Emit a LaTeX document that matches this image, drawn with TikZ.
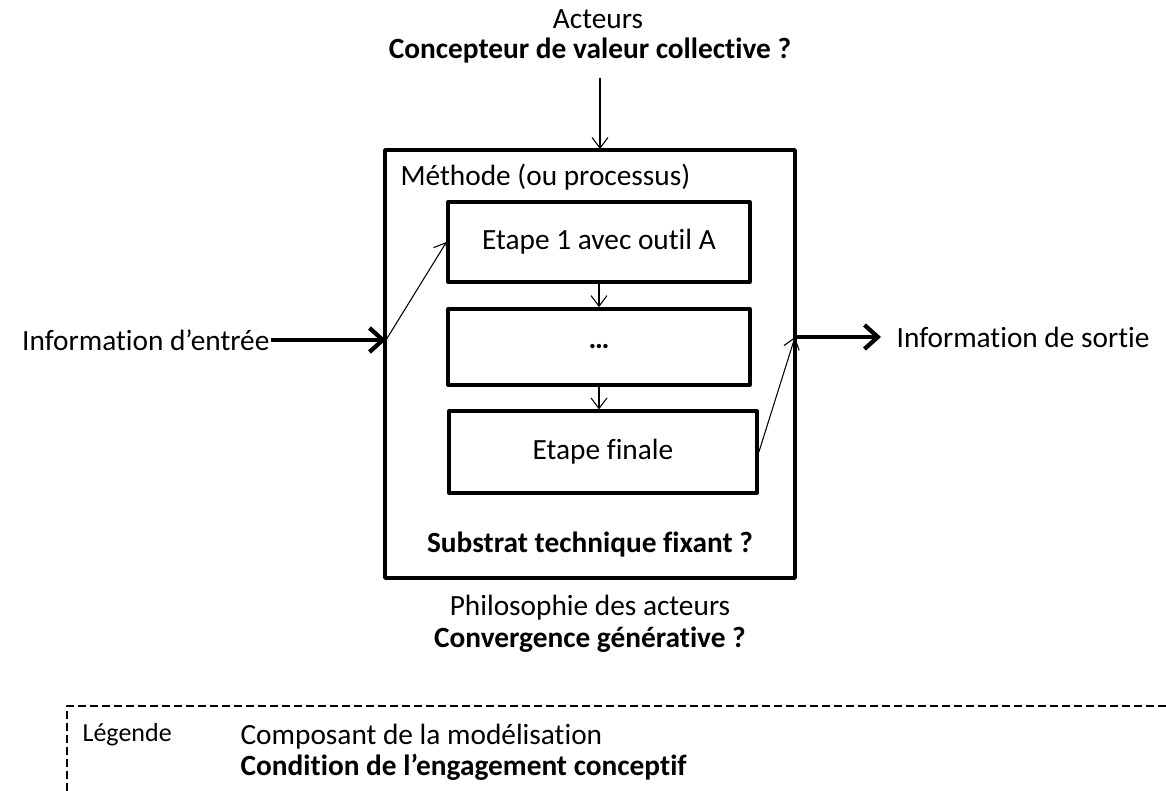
\documentclass[tikz,border=0pt]{standalone}
\usepackage{fontspec}
\setmainfont{Carlito}[Ligatures=NoCommon]
\usetikzlibrary{positioning, arrows.meta}
\tikzset{
    txt/.style={inner sep=1pt, font=\fontsize{22}{26}\selectfont},
    txtbold/.style={txt, font=\fontsize{22}{26}\selectfont\bfseries},
    etape/.style={draw, line width=2.8pt, minimum width=226pt, minimum height=60pt, inner sep=0pt, font=\fontsize{22}{26}\selectfont},
    thin arrow/.style={line width=0.8pt, -{Straight Barb[length=8pt, width=12pt]}},
    thick arrow/.style={line width=3.2pt, -{Straight Barb[length=10pt, width=18pt]}},
    legende/.style={line width=1.1pt, dash pattern=on 6pt off 3pt}
}
\begin{document}
\begin{tikzpicture}[x=0.75pt, y=-0.75pt, line join=round]
    \useasboundingbox (0,0) rectangle (1166,791);

    % acteurs
    \node[txt] (acteurs) at (598,19) {Acteurs};
    \node[txtbold] (concepteur) at (590,51) {Concepteur de valeur collective ?};

    % methode
    \node[draw, line width=2.8pt, minimum width=307.5pt, minimum height=321pt] (methode) at (590,364) {};
    \node[txt, anchor=west] (titre) at (399,177) {Méthode (ou processus)};
    \node[etape] (step1) at (599,242) {Etape 1 avec outil A};
    \node[etape, minimum height=57pt] (middle) at (599,347) {\textbf{…}};
    \node[etape, minimum width=231pt, minimum height=61pt] (final) at (603,452) {Etape finale};
    \node[txtbold] (substrat) at (590,545) {Substrat technique fixant ?};

    % philosophie
    \node[txt] (philo) at (590,608) {Philosophie des acteurs};
    \node[txtbold] (convergence) at (590,640) {Convergence générative ?};

    % entree / sortie
    \node[txt, anchor=east] (entree) at (271,340) {Information d’entrée};
    \node[txt, anchor=west] (sortie) at (895,337) {Information de sortie};
    \coordinate (in) at (386,340);
    \coordinate (out) at (795,337);
    \coordinate (top) at (600,78);
    \coordinate (topin) at (600,149);

    \draw[thin arrow] (top) -- (topin);
    \draw[thick arrow] (entree.east) -- (in);
    \draw[thin arrow] (in) -- (step1.west);
    \draw[thin arrow] (step1) -- (middle);
    \draw[thin arrow] (middle) -- (middle.south |- final.north);
    \draw[thin arrow] (final.east) -- (out);
    \draw[thick arrow] (out) -- (881,337);

    % legende
    \draw[legende] (67,791) -- (67,706) -- (1166,706);
    \node[anchor=west, inner sep=1pt, font=\fontsize{19.5}{23}\selectfont] (legende) at (81,735) {Légende};
    \node[txt, anchor=west] (composant) at (239,737) {Composant de la modélisation};
    \node[txtbold, anchor=west] (condition) at (239,767) {Condition de l’engagement conceptif};
\end{tikzpicture}
\end{document}
